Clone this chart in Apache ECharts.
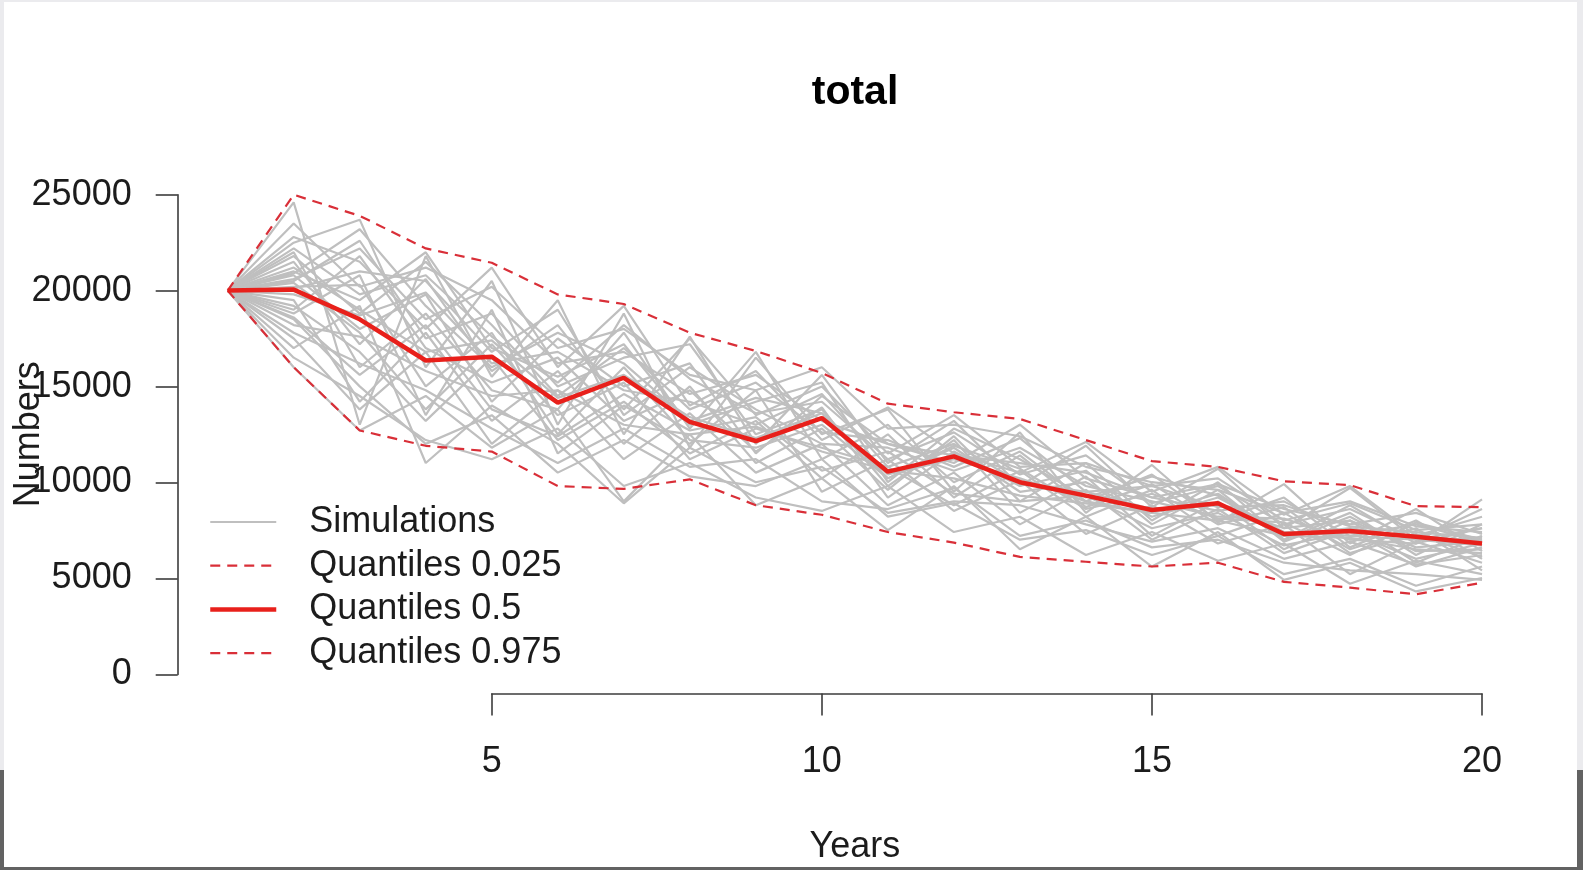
<!DOCTYPE html>
<html>
<head>
<meta charset="utf-8">
<script src="https://cdn.jsdelivr.net/npm/echarts@6/dist/echarts.min.js"></script>
<style>
html,body{margin:0;padding:0;width:1583px;height:870px;overflow:hidden;background:#ebebee;}
#bgdark{position:absolute;left:0;top:770px;width:1583px;height:100px;background:#626262;}
#panel{position:absolute;left:4px;top:2px;width:1573px;height:865px;background:#ffffff;}
#chart{position:absolute;left:0;top:0;width:1583px;height:870px;}
</style>
</head>
<body>
<div id="bgdark"></div>
<div id="panel"></div>
<div id="chart"></div>
<script>
// ---- data ----
const years = [1,2,3,4,5,6,7,8,9,10,11,12,13,14,15,16,17,18,19,20];
const xTicks = [5,10,15,20];
const yTicks = [0,5000,10000,15000,20000,25000];

const q025 = [20000,16000,12700,11900,11600,9800,9650,10150,8800,8300,7400,6850,6100,5850,5600,5800,4800,4500,4150,4750];
const q50  = [20000,20050,18500,16350,16550,14150,15450,13150,12150,13350,10550,11350,10000,9300,8550,8900,7300,7450,7150,6800];
const q975 = [20000,25000,23900,22200,21450,19800,19300,17800,16850,15700,14100,13650,13300,12200,11100,10800,10050,9850,8750,8700];

const simulations = [
  [20000,24600,13000,21800,15500,19500,12500,17600,12000,15600,11000,13200,9800,11900,8700,10700,7600,9700,7000,8600],
  [20000,22500,23700,16000,20500,13000,18800,11800,16500,12500,13800,9500,12600,8400,10900,7900,9900,6800,8600,6400],
  [20000,21000,19500,22000,17000,15500,17200,13000,14200,15200,10000,12800,11200,9200,10300,9300,7000,8800,6800,7600],
  [20000,18500,15000,12000,13500,10500,12200,10300,9800,11200,8200,8900,7000,7500,6200,7200,5200,6000,4600,5600],
  [20000,16000,12700,14500,11800,13800,9000,12500,8800,10200,7500,9800,6500,8200,5600,7400,4900,5800,4300,5000],
  [20000,20800,18000,19800,14200,17500,15000,16200,11500,14500,12000,11000,13000,10200,9200,8500,9000,7200,7800,6900],
  [20000,22800,21500,18000,21200,16000,19200,14000,15800,12200,13900,11500,10500,12100,9500,10800,8300,9800,7200,8200],
  [20000,19200,16800,13200,16500,12200,14200,11500,13200,10200,12500,9200,11400,8700,9900,7800,8700,6300,7300,6100],
  [20000,20500,22600,17500,18800,15000,16500,17200,12500,13800,9800,12200,8400,10300,7200,9000,6500,8000,5800,7200],
  [20000,17500,13800,16800,12000,14800,11200,13600,10500,12000,8800,10500,7800,9600,7000,8600,6300,7500,5600,6600],
  [20000,21500,17200,20600,15800,18200,13800,17500,13500,15000,11500,13500,10800,11000,9800,10200,8000,8900,7500,7800],
  [20000,20200,20300,15000,17800,12500,16000,12200,11800,13000,10200,11800,9500,10000,8200,9200,7400,7200,7000,6700],
  [20000,18800,20800,13500,19000,11500,14000,12000,14800,9500,11200,8500,10100,7300,8800,6800,7800,5200,6900,5800],
  [20000,16500,14500,12200,11200,12800,9800,11000,9200,8500,9800,7400,8200,6200,7400,5900,6800,4700,5900,5200],
  [20000,19800,18700,19900,16200,16800,14800,14200,13000,14600,10800,12000,10000,9500,8600,8800,7600,8000,6600,6900],
  [20000,22000,16000,18800,14800,13800,17800,12800,16800,11200,13000,10000,11600,9000,10400,8000,9200,6600,8000,6000],
  [20000,20600,22200,18500,20200,17000,18000,15600,14800,16000,12800,13000,12400,10800,10000,9600,8400,9000,7700,7400],
  [20000,17800,16200,14800,12800,11000,12800,10800,11200,9000,8600,9700,7200,8000,6600,7000,5800,5400,5200,4900],
  [20000,21200,19000,16800,17400,14400,15600,13400,12300,13600,10400,11200,10200,9000,8400,9400,7200,7600,7100,7000],
  [20000,19500,14200,17800,13200,15800,12000,15000,11000,12800,9600,12400,9000,11000,8000,10000,7000,8400,6200,7800],
  [20000,20100,21000,20500,16800,19000,13500,16000,13800,12000,11800,10600,11800,9800,9000,8200,8100,7000,6800,9100],
  [20000,18200,17600,15800,14500,14800,13000,12500,12900,11600,10600,10200,9300,8900,8400,8000,7200,7100,6500,6300],
  [20000,23500,20200,21200,19500,16200,16800,14600,15600,13200,12000,11400,11000,10500,9200,9900,8600,7800,8400,7300],
  [20000,17000,19200,11000,14000,12000,8900,11800,10000,10800,8400,9000,8800,7800,6900,7600,6000,6900,5700,6200],
  [20000,21800,18800,21500,18200,14500,17000,13800,15200,12600,12200,10800,12300,9500,9800,8700,8800,7700,7400,7100],
  [20000,19000,21800,17000,15200,16500,13200,14800,11600,13900,9200,11600,9800,10600,7800,9600,6900,8200,6400,6500],
  [20000,20400,17800,13800,17200,13500,15200,11200,12800,11800,10800,8800,10600,8200,9600,7200,8400,6500,7600,5400],
  [20000,22200,19800,20800,17600,15200,18200,15400,13600,14200,11200,12600,10400,11400,8900,9800,7800,8600,7000,7600],
  [20000,18600,15600,18200,13800,12400,14600,12700,13400,10600,11600,9400,9000,9300,7600,8400,6700,7400,6000,6800],
  [20000,20900,23200,19200,16000,17800,16200,13200,14400,13600,10200,11900,10700,8600,9400,8100,7900,6200,7900,7000]
];

const legendNames = ['Simulations','Quantiles 0.025','Quantiles 0.5','Quantiles 0.975'];

// ---- chart ----
const FONT = 'Liberation Sans, Arial, sans-serif';
const TXT = '#1c1c1c';
const AXC = '#3c3c3c';
const FS = 36;
const GREY = '#bfbfbf';
const DASH_RED = '#d92f38';
const MED_RED = '#e8201b';
const DASH = [10, 7];
const pairs = arr => years.map((x, i) => [x, arr[i]]);

const series = [];
simulations.forEach(s => {
  series.push({
    name: 'Simulations', type: 'line', xAxisIndex: 0, yAxisIndex: 0,
    data: pairs(s), symbol: 'none', showSymbol: false, silent: true,
    lineStyle: { color: GREY, width: 2.2 }, itemStyle: { color: GREY },
    z: 2
  });
});
series.push({
  name: 'Quantiles 0.025', type: 'line', data: pairs(q025), symbol: 'none', showSymbol: false,
  lineStyle: { color: DASH_RED, width: 2.2, type: DASH }, itemStyle: { color: DASH_RED }, z: 4
});
series.push({
  name: 'Quantiles 0.5', type: 'line', data: pairs(q50), symbol: 'none', showSymbol: false,
  lineStyle: { color: MED_RED, width: 4.5 }, itemStyle: { color: MED_RED }, z: 5
});
series.push({
  name: 'Quantiles 0.975', type: 'line', data: pairs(q975), symbol: 'none', showSymbol: false,
  lineStyle: { color: DASH_RED, width: 2.2, type: DASH }, itemStyle: { color: DASH_RED }, z: 4
});

const legendStyles = [
  { color: GREY, width: 2, type: 'solid' },
  { color: DASH_RED, width: 2.2, type: DASH },
  { color: MED_RED, width: 4.5, type: 'solid' },
  { color: DASH_RED, width: 2.2, type: DASH }
];

const chart = echarts.init(document.getElementById('chart'), null, { renderer: 'canvas' });
chart.setOption({
  animation: false,
  backgroundColor: 'transparent',
  textStyle: { fontFamily: FONT },
  title: {
    text: 'total', left: 855, top: 72, textAlign: 'center', padding: 0,
    textStyle: { fontFamily: FONT, fontWeight: 'bold', fontSize: 41, color: '#000' }
  },
  legend: {
    data: legendNames.map((n, i) => ({ name: n, lineStyle: legendStyles[i], itemStyle: { opacity: 0 } })),
    orient: 'vertical', left: 208, top: 504, padding: 0,
    itemWidth: 66, itemHeight: 14, itemGap: 7.7, selectedMode: false,
    itemStyle: { opacity: 0 },
    textStyle: { fontFamily: FONT, fontSize: FS, color: TXT, lineHeight: 36, padding: [0, 0, 0, 28] }
  },
  grid: [
    { left: 177.5, right: 50.8, top: 175.6, bottom: 176.4, containLabel: false },
    { left: 177.7, width: 100, top: 194.8, height: 479.6, containLabel: false },
    { left: 491.7, width: 990.3, top: 600, bottom: 176.4, containLabel: false }
  ],
  xAxis: [
    { gridIndex: 0, type: 'value', min: 0.24, max: 20.76,
      axisLine: { show: false }, axisTick: { show: false }, axisLabel: { show: false }, splitLine: { show: false },
      name: 'Years', nameLocation: 'middle', nameGap: 136,
      nameTextStyle: { fontFamily: FONT, fontSize: FS, color: TXT } },
    { gridIndex: 1, type: 'value', show: false, min: 0, max: 1 },
    { gridIndex: 2, type: 'value', min: 5, max: 20, interval: 5, position: 'bottom',
      axisLine: { show: true, lineStyle: { color: AXC, width: 1.6 } },
      axisTick: { show: true, length: 22, lineStyle: { color: AXC, width: 1.6 } },
      axisLabel: { show: true, margin: 50, fontFamily: FONT, fontSize: FS, color: TXT,
        customValues: xTicks, formatter: v => String(v) },
      splitLine: { show: false } }
  ],
  yAxis: [
    { gridIndex: 0, type: 'value', min: -1000, max: 26000,
      axisLine: { show: false }, axisTick: { show: false }, axisLabel: { show: false }, splitLine: { show: false },
      name: 'Numbers', nameLocation: 'middle', nameGap: 130, nameRotate: 90,
      nameTextStyle: { fontFamily: FONT, fontSize: FS, color: TXT } },
    { gridIndex: 1, type: 'value', min: 0, max: 25000, interval: 5000, position: 'left',
      axisLine: { show: true, lineStyle: { color: AXC, width: 1.6 } },
      axisTick: { show: true, length: 22, lineStyle: { color: AXC, width: 1.6 } },
      axisLabel: { show: true, margin: 46, fontFamily: FONT, fontSize: FS, color: TXT,
        customValues: yTicks, formatter: v => String(v) },
      splitLine: { show: false } },
    { gridIndex: 2, type: 'value', show: false, min: 0, max: 1 }
  ],
  series: series
});
</script>
</body>
</html>
